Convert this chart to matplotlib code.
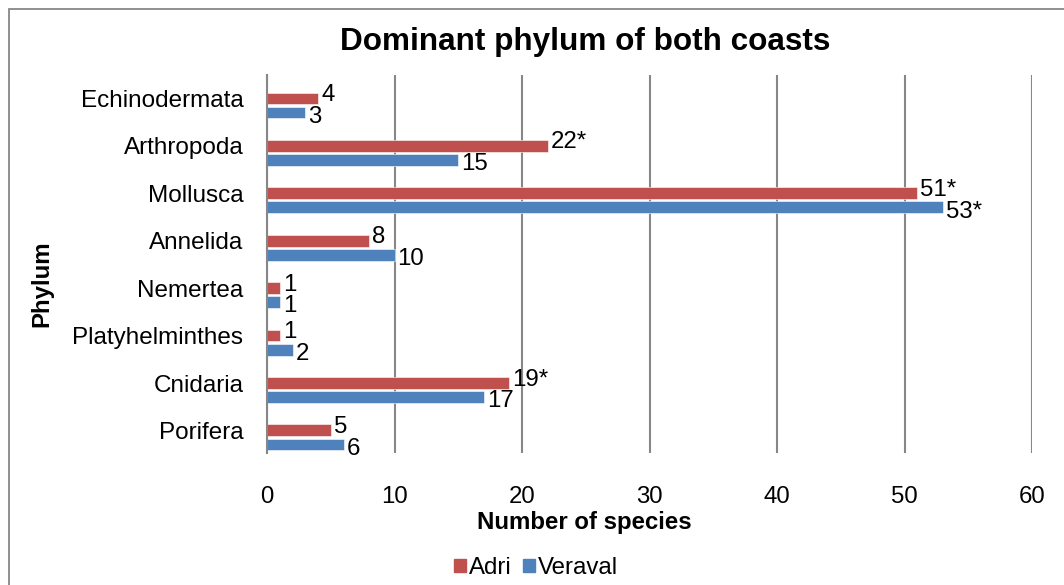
import numpy as np
import matplotlib
matplotlib.use("Agg")
import matplotlib.pyplot as plt
import matplotlib.transforms as mtransforms
from matplotlib.patches import Rectangle, Patch

plt.rcParams['font.family'] = ['Liberation Sans', 'DejaVu Sans']

# data, listed bottom to top as drawn
phyla = ['Porifera', 'Cnidaria', 'Platyhelminthes', 'Nemertea',
         'Annelida', 'Mollusca', 'Arthropoda', 'Echinodermata']
adri = [5, 19, 1, 1, 8, 51, 22, 4]
veraval = [6, 17, 2, 1, 10, 53, 15, 3]
adri_labels = ['5', '19*', '1', '1', '8', '51*', '22*', '4']
veraval_labels = ['6', '17', '2', '1', '10', '53*', '15', '3']
xticks = [0, 10, 20, 30, 40, 50, 60]

RED = '#C0504D'
BLUE = '#4F81BD'
GRID = '#878787'

W, H = 1064, 585
fig = plt.figure(figsize=(W / 100, H / 100), dpi=100)

# outer chart border (cut off at the right/bottom in the original)
fig.patches.append(Rectangle((9 / W, -0.1), 1.2, 1 - 9 / H + 0.1,
                             transform=fig.transFigure, fill=False,
                             edgecolor=GRID, linewidth=1.3))

left, right, top, bottom = 267, 1032, 75, 453
ax = fig.add_axes([left / W, 1 - bottom / H, (right - left) / W, (bottom - top) / H])

y = np.arange(len(phyla))
off = 0.149
h = 0.25
ax.barh(y + off, adri, height=h, color=RED, edgecolor='white', linewidth=0.4, label='Adri', zorder=3)
ax.barh(y - off, veraval, height=h, color=BLUE, edgecolor='white', linewidth=0.4, label='Veraval', zorder=3)

for i in range(len(phyla)):
    ax.annotate(adri_labels[i], (adri[i], y[i] + off), xytext=(2.2, 2.5),
                textcoords='offset points', va='center', ha='left', fontsize=17.3)
    ax.annotate(veraval_labels[i], (veraval[i], y[i] - off), xytext=(2.2, -3),
                textcoords='offset points', va='center', ha='left', fontsize=17.3)

ax.set_xlim(0, 60)
ax.set_ylim(-0.327, 7.643)
ax.set_xticks(xticks)
ax.set_xticklabels([str(t) for t in xticks], fontsize=17.3)
ax.set_yticks(y)
ax.set_yticklabels(phyla, fontsize=17.5)
ax.tick_params(axis='x', length=0, pad=24)
ax.tick_params(axis='y', length=0, pad=17)
# category labels sit a little above the bar pairs
shift = mtransforms.ScaledTranslation(0, 7 / 100, fig.dpi_scale_trans)
for lab in ax.get_yticklabels():
    lab.set_transform(lab.get_transform() + shift)
ax.grid(axis='x', color=GRID, linewidth=1.5, zorder=0)
for s in ['top', 'right', 'bottom']:
    ax.spines[s].set_visible(False)
ax.spines['left'].set_color(GRID)
ax.spines['left'].set_linewidth(1.5)
ax.spines['left'].set_zorder(4)

fig.text(585 / W, 1 - 42 / H, 'Dominant phylum of both coasts', ha='center', va='center',
         fontsize=22.7, fontweight='bold')
fig.text(584 / W, 1 - 522 / H, 'Number of species', ha='center', va='center',
         fontsize=17.3, fontweight='bold')
fig.text(42 / W, 1 - 284 / H, 'Phylum', ha='center', va='center', rotation=90,
         fontsize=17.3, fontweight='bold')

handles = [Patch(color=RED, label='Adri'), Patch(color=BLUE, label='Veraval')]
fig.legend(handles=handles, loc='center', bbox_to_anchor=(536 / W, 1 - 568 / H),
           ncol=2, frameon=False, fontsize=17.3, handlelength=0.5, handleheight=0.5,
           handletextpad=0.15, columnspacing=0.45, borderpad=0)

fig.savefig('out.png', dpi=100)
